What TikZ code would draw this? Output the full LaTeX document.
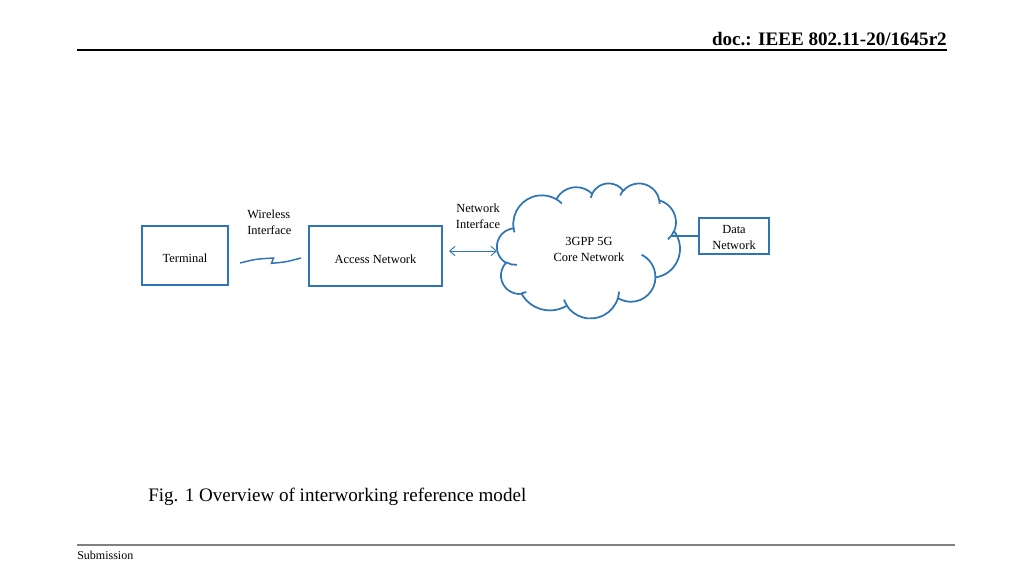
\documentclass[tikz,border=0pt]{standalone}
\usepackage{fontspec}
\setmainfont{Liberation Serif}
\usetikzlibrary{arrows.meta}
\definecolor{ppblue}{RGB}{46,117,182}
\tikzset{
  box/.style={draw=ppblue, line width=1.4pt, minimum width=#1, inner sep=0pt},
  txt/.style={inner sep=0pt, align=center, font=\fontsize{9.3}{12}\selectfont},
  link/.style={draw=ppblue, line width=1.2pt},
  cloudline/.style={draw=ppblue, line width=1.3pt, line join=round},
  oarc/.style n args={4}{insert path={
    arc[start angle={atan2(sin(#3)/#2, cos(#3)/#1)},
        delta angle={mod(atan2(sin(#3+#4)/#2, cos(#3+#4)/#1) - atan2(sin(#3)/#2, cos(#3)/#1) + 720, 360)},
        x radius=#1, y radius=#2]}},
}
\begin{document}
\begin{tikzpicture}[x=0.75pt,y=-0.75pt]
\useasboundingbox (0,0) rectangle (1024,576);
% header / footer
\node[anchor=base east, inner sep=0pt, font=\fontsize{14.3}{16}\selectfont\bfseries] (hdr) at (947,45) {doc.: IEEE 802.11-20/1645r2};
\coordinate (hl) at (77,50); \coordinate (hr) at (947,50);
\draw[line width=0.9pt] (hl) -- (hr);
\coordinate (fl) at (77,545); \coordinate (fr) at (955,545);
\draw[line width=1.3pt, gray] (fl) -- (fr);
\node[anchor=base west, inner sep=0pt, font=\fontsize{9}{10}\selectfont] (sub) at (77,559) {Submission};
\node[anchor=base west, inner sep=0pt, font=\fontsize{14.3}{16}\selectfont] (cap) at (148,501) {Fig. 1 Overview of interworking reference model};
% boxes
\node[box=86*0.75pt, minimum height=59*0.75pt] (term) at (185,255.5) {};
\node[box=133*0.75pt, minimum height=60*0.75pt] (acc) at (375.5,256) {};
\node[box=70*0.75pt, minimum height=36*0.75pt] (dn) at (734,236) {};
\node[txt, yshift=-2.25pt] (termtxt) at (term.center) {Terminal};
\node[txt, yshift=-2.25pt] (acctxt) at (acc.center) {Access Network};
\node[txt, yshift=-0.75pt] (dntxt) at (dn.center) {Data\\Network};
% cloud (PowerPoint cloud geometry)
\begin{scope}[shift={(497,183)}, x=3.17708pt, y=-2.34375pt]
\draw[cloudline, fill=white] (3.9,14.37)
  [oarc={6.753}{9.19}{-190.48748}{123.78053}]
  [oarc={5.333}{7.267}{-144.10238}{89.94523}]
  [oarc={4.365}{5.945}{-145.80792}{99.72302}]
  [oarc={4.857}{6.595}{-130.98607}{117.24173}]
  [oarc={5.333}{7.273}{-78.70888}{109.02692}]
  [oarc={6.775}{9.22}{-46.26725}{130.269}]
  [oarc={5.785}{7.867}{0.62502}{114.03333}]
  [oarc={6.752}{9.215}{22.4516}{115.17255}]
  [oarc={7.72}{10.543}{66.24263}{75.71102}]
  [oarc={4.36}{5.918}{-274.94208}{146.73557}]
  [oarc={4.345}{5.945}{-246.8285}{152.51885}] -- cycle;
\draw[cloudline]
  (4.693,26.177) [oarc={4.345}{5.945}{86.742}{26.4295}]
  (6.928,34.899) [oarc={4.36}{5.918}{73.61047}{11.44747}]
  (16.478,39.09) [oarc={6.752}{9.215}{137.62415}{14.0811}]
  (28.827,34.751) [oarc={6.752}{9.215}{6.45327}{15.99835}]
  (34.129,22.954) [oarc={5.785}{7.867}{-70.29235}{70.91737}]
  (41.798,15.354) [oarc={5.333}{7.273}{30.31803}{27.7515}]
  (38.324,5.426) [oarc={4.857}{6.595}{-13.74433}{14.8589}]
  (29.078,3.952) [oarc={4.857}{6.595}{-149.18145}{18.19537}]
  (22.141,4.72) [oarc={4.365}{5.945}{-163.49427}{17.68635}]
  (14.0,5.192) [oarc={6.753}{9.19}{-66.70695}{12.31935}]
  (4.127,15.789) [oarc={6.753}{9.19}{157.65435}{11.85817}];
\end{scope}
\node[txt] (core) at (589,249) {3GPP 5G\\Core Network};
% labels
\node[txt, align=left, anchor=north west] (wl) at (247,210) {Wireless\\Interface};
\node[txt] (nl) at (478,216.5) {Network\\Interface};
% wireless link
\coordinate (w1) at (240,263);
\coordinate (w2) at (301,258);
\draw[link, line width=1.1pt] (w1) .. controls (256,259) .. (273.5,258) -- (271.5,263.3) .. controls (286,262) .. (w2);
% network interface arrow
\coordinate (a1) at (449,251);
\coordinate (a2) at (497,251);
\draw[draw=ppblue, line width=0.7pt, {Straight Barb[length=4pt,width=7pt]}-{Straight Barb[length=4pt,width=7pt]}] (a1) -- (a2);
% data link
\coordinate (d1) at (672,236);
\draw[link] (d1) -- (dn.west);
\end{tikzpicture}
\end{document}
